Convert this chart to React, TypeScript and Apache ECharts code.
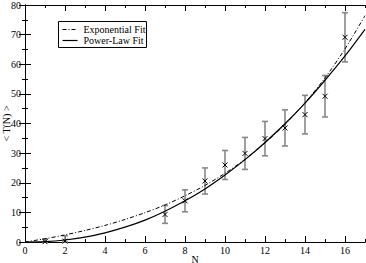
import React, { useEffect, useRef } from "react";
import * as echarts from "echarts";

const fitN = [0, 1, 2, 3, 4, 5, 6, 7, 8, 9, 10, 11, 12, 13, 14, 15, 16, 17];
const expFit = [0, 1.1, 2.4, 3.9, 5.6, 7.6, 9.9, 12.5, 15.6, 19.1, 23.2, 27.9, 33.4, 39.7, 47.0, 55.4, 65.2, 76.4];
const powFit = [0, 0.15, 0.68, 1.64, 3.1, 5.0, 7.4, 10.4, 13.9, 17.9, 22.6, 27.8, 33.6, 39.9, 46.9, 54.6, 62.8, 71.8];

const dataN = [1, 2, 7, 8, 9, 10, 11, 12, 13, 14, 15, 16];
const dataT = [0.1, 0.3, 9.3, 13.9, 20.6, 26.0, 29.9, 34.9, 38.5, 43.0, 49.2, 69.1];
const dataErr = [0.9, 1.8, 3.0, 3.7, 4.4, 4.9, 5.4, 5.8, 6.1, 6.5, 7.0, 8.3];

const xMajor = [0, 2, 4, 6, 8, 10, 12, 14, 16];
const xMinor = [1, 3, 5, 7, 9, 11, 13, 15, 17];
const legendNames = ["Exponential Fit", "Power-Law Fit"];

const FONT = "Liberation Serif";

export default function App() {
  const ref = useRef<HTMLDivElement>(null);
  useEffect(() => {
    document.body.style.margin = "0";
    const chart = echarts.init(ref.current!, null, { renderer: "svg" });
    const axisLine = { show: true, lineStyle: { color: "#000", width: 1 } };
    const xBase = (pos: string) => ({
      type: "value",
      position: pos,
      min: 0,
      max: 17,
      axisLine,
      splitLine: { show: false },
    });
    const dash = [4, 2, 1, 2];
    const option: any = {
      animation: false,
      textStyle: { fontFamily: FONT },
      grid: { left: 25, right: 1, top: 5, bottom: 21, containLabel: false, outerBoundsMode: "none" },
      graphic: [
        {
          type: "group",
          left: 58,
          top: 21,
          children: [
            { type: "rect", shape: { x: 0, y: 0, width: 88, height: 26 }, style: { fill: "#fff", stroke: "#000", lineWidth: 1 } },
            { type: "line", shape: { x1: 4, y1: 8, x2: 19, y2: 8 }, style: { stroke: "#000", lineWidth: 1, lineDash: dash } },
            { type: "line", shape: { x1: 4, y1: 19, x2: 19, y2: 19 }, style: { stroke: "#000", lineWidth: 1.2 } },
            { type: "text", x: 25, y: 8, style: { text: legendNames[0], fontFamily: FONT, fontSize: 10, fill: "#000", verticalAlign: "middle" } },
            { type: "text", x: 25, y: 19, style: { text: legendNames[1], fontFamily: FONT, fontSize: 10, fill: "#000", verticalAlign: "middle" } },
          ],
        },
      ],
      xAxis: [
        {
          ...xBase("bottom"),
          name: "N",
          nameLocation: "middle",
          nameGap: 12,
          nameMoveOverlap: false,
          nameTextStyle: { fontFamily: FONT, fontSize: 10, color: "#000" },
          axisTick: { inside: true, length: 6, customValues: xMajor, lineStyle: { color: "#000" } },
          axisLabel: { customValues: xMajor, fontFamily: FONT, fontSize: 10, color: "#000", margin: 3 },
        },
        {
          ...xBase("bottom"),
          axisTick: { inside: true, length: 3, customValues: xMinor, lineStyle: { color: "#000" } },
          axisLabel: { show: false },
        },
        {
          ...xBase("top"),
          axisTick: { inside: true, length: 6, customValues: xMajor, lineStyle: { color: "#000" } },
          axisLabel: { show: false },
        },
        {
          ...xBase("top"),
          axisTick: { inside: true, length: 3, customValues: xMinor, lineStyle: { color: "#000" } },
          axisLabel: { show: false },
        },
      ],
      yAxis: [
        {
          type: "value",
          position: "left",
          min: 0,
          max: 80,
          interval: 10,
          name: "< T(N) >",
          nameLocation: "middle",
          nameRotate: 90,
          nameGap: 14,
          nameMoveOverlap: false,
          nameTextStyle: { fontFamily: FONT, fontSize: 10, color: "#000" },
          axisLine,
          splitLine: { show: false },
          axisTick: { inside: true, length: 6, lineStyle: { color: "#000" } },
          minorTick: { show: true, splitNumber: 2, length: 3, lineStyle: { color: "#000" } },
          axisLabel: { fontFamily: FONT, fontSize: 10, color: "#000", margin: 4 },
        },
        {
          type: "value",
          position: "right",
          min: 0,
          max: 80,
          interval: 10,
          axisLine,
          splitLine: { show: false },
          axisTick: { inside: true, length: 6, lineStyle: { color: "#000" } },
          minorTick: { show: true, splitNumber: 2, length: 3, lineStyle: { color: "#000" } },
          axisLabel: { show: false },
        },
      ],
      series: [
        {
          name: legendNames[0],
          type: "line",
          data: fitN.map((n, i) => [n, expFit[i]]),
          smooth: 0.3,
          showSymbol: false,
          symbol: "none",
          lineStyle: { color: "#000", width: 1, type: dash },
        },
        {
          name: legendNames[1],
          type: "line",
          data: fitN.map((n, i) => [n, powFit[i]]),
          smooth: 0.3,
          showSymbol: false,
          symbol: "none",
          lineStyle: { color: "#000", width: 1.2 },
        },
        {
          name: "data",
          type: "custom",
          data: dataN.map((n, i) => [n, dataT[i], dataErr[i]]),
          renderItem: (params: any, api: any) => {
            const x = api.value(0);
            const y = api.value(1);
            const e = api.value(2);
            const p = api.coord([x, y]);
            const hi = api.coord([x, y + e]);
            const lo = api.coord([x, Math.max(0, y - e)]);
            const gray = { stroke: "#888", lineWidth: 1.6 };
            const blk = { stroke: "#000", lineWidth: 1 };
            const m = 2.5;
            const c = 3;
            return {
              type: "group",
              children: [
                { type: "line", shape: { x1: p[0], y1: hi[1], x2: p[0], y2: lo[1] }, style: gray },
                { type: "line", shape: { x1: p[0] - c, y1: hi[1], x2: p[0] + c, y2: hi[1] }, style: gray },
                { type: "line", shape: { x1: p[0] - c, y1: lo[1], x2: p[0] + c, y2: lo[1] }, style: gray },
                { type: "line", shape: { x1: p[0] - m, y1: p[1] - m, x2: p[0] + m, y2: p[1] + m }, style: blk },
                { type: "line", shape: { x1: p[0] - m, y1: p[1] + m, x2: p[0] + m, y2: p[1] - m }, style: blk },
              ],
            };
          },
        },
      ],
    };
    chart.setOption(option);
    return () => chart.dispose();
  }, []);
  return <div ref={ref} style={{ width: 366, height: 263 }} />;
}
